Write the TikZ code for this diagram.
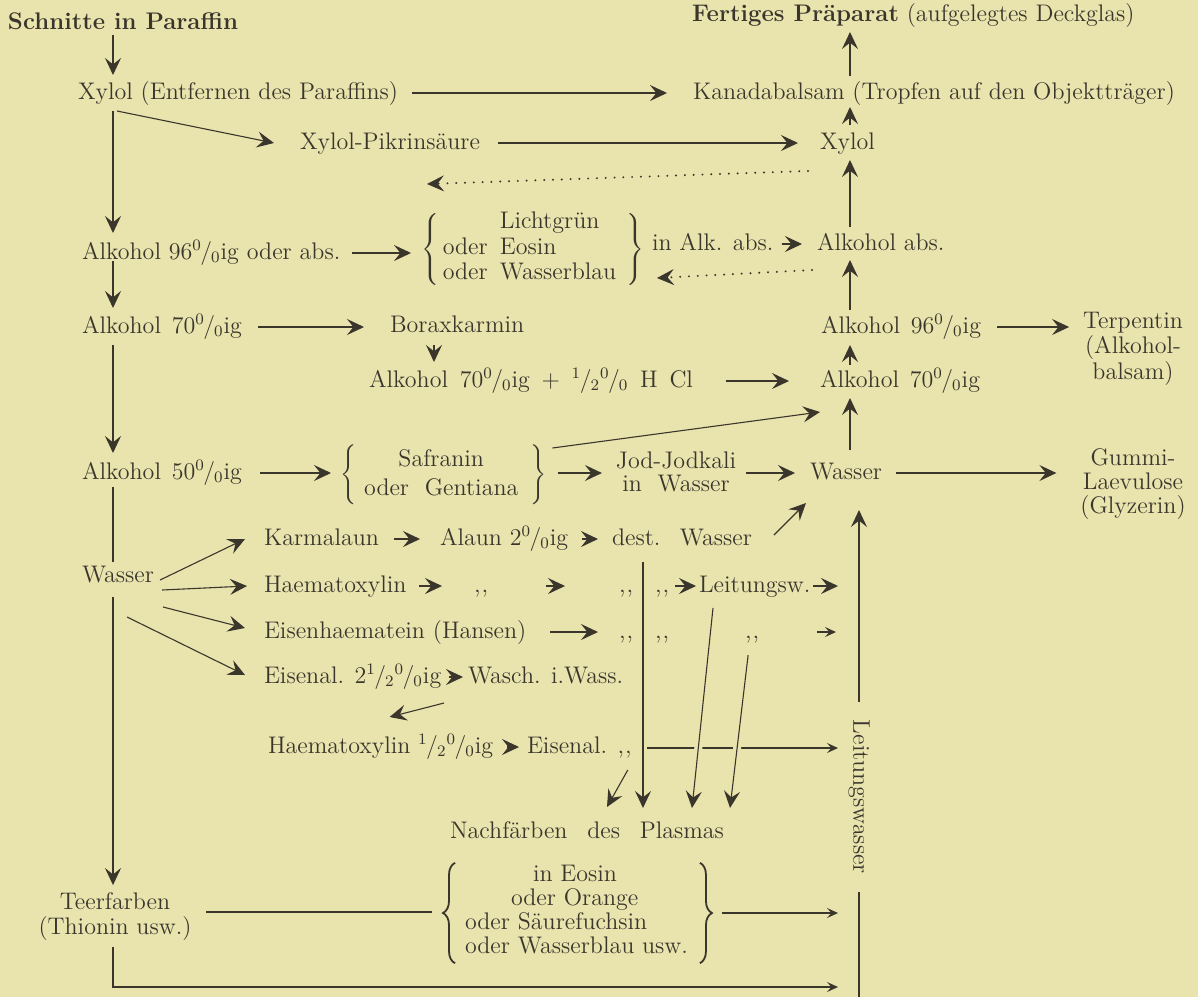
\documentclass[tikz,border=0pt]{standalone}
\usepackage{fontspec}
\usetikzlibrary{arrows.meta,calc,decorations.pathreplacing}
\definecolor{bgc}{RGB}{233,227,174}
\definecolor{tc}{RGB}{58,54,44}
\newcommand{\prz}{\textsuperscript{0}\kern-0.06em/\kern-0.04em\textsubscript{0}}
\newcommand{\hlf}{\textsuperscript{1}\kern-0.06em/\kern-0.04em\textsubscript{2}}
\newcommand{\dit}{{,}\kern0.6pt{,}}
\tikzset{
 txt/.style={inner sep=0pt, outer sep=0pt, text height=9pt, text depth=3pt, anchor=west, font=\fontsize{12}{14}\selectfont, text=tc},
 mlt/.style={inner sep=0pt, outer sep=0pt, align=center, text=tc},
 brc/.style={inner sep=0pt, outer sep=0pt, anchor=west, text=tc, font=\fontsize{12}{14}\selectfont},
 ln/.style={draw=tc, line width=0.55pt},
 curly/.style={draw=tc, line width=0.9pt, decorate, decoration={brace, amplitude=6pt}},
 arr/.style={ln, -{Stealth[length=8.5pt,width=8pt,inset=3.2pt]}},
 sarr/.style={ln, -{Stealth[length=5.5pt,width=5pt,inset=2.2pt]}},
 dotarr/.style={draw=tc, line width=1.1pt, line cap=round, dash pattern=on 0pt off 4.4pt, -{Stealth[length=8.5pt,width=8pt,inset=3.2pt,line width=0.4pt]}},
 gap/.style={preaction={draw=bgc, line width=4pt, arrows=-}},
}
\begin{document}
\begin{tikzpicture}[x=0.5pt,y=-0.5pt]
\fill[bgc] (0,0) rectangle (1198,997);
\useasboundingbox (0,0) rectangle (1198,997);
\coordinate (sp) at (113,0);
\coordinate (xr) at (850,0);
\coordinate (xrr) at (859,0);
\coordinate (xcol) at (643,0);

% ---------- nodes ----------
\node[txt, font=\fontsize{12}{14}\selectfont\bfseries] (schnitte) at (8,23) {Schnitte in Paraffin};
\node[txt] (fertig) at (692,15) {\textbf{Fertiges Präparat} (aufgelegtes Deckglas)};
\node[txt] (xylolE) at (78,93) {Xylol (Entfernen des Paraffins)};
\node[txt] (kanada) at (693,93) {Kanadabalsam (Tropfen auf den Objektträger)};
\node[txt] (pikrin) at (300,143) {Xylol-Pikrinsäure};
\node[txt] (xylolR) at (820,143) {Xylol};
\node[txt] (alk96abs) at (82,253) {Alkohol 96\prz ig oder abs.};
\node[brc] (brace1) at (421,249) {\def\arraystretch{0.91}$\left\{\begin{tabular}{@{\hspace{2pt}}l@{\hspace{6pt}}l@{\hspace{5pt}}} & Lichtgrün\\ oder & Eosin\\ oder & Wasserblau\end{tabular}\right\}$};
\node[txt] (inalk) at (652,244) {in Alk. abs.};
\node[txt] (alkabs) at (817,244) {Alkohol abs.};
\node[txt] (alk70) at (82,327) {\makebox[80pt][s]{Alkohol 70\prz ig}};
\node[txt] (borax) at (390,326) {Boraxkarmin};
\node[txt] (alk96R) at (821,327) {\makebox[80pt][s]{Alkohol 96\prz ig}};
\node[mlt, font=\fontsize{12}{11.3}\selectfont] (terp) at (1133,349) {Terpentin\\(Alkohol-\\balsam)};
\node[txt] (alk70hcl) at (369,381) {\makebox[162pt][s]{Alkohol 70\prz ig $+$ \hlf\prz{} H Cl}};
\node[txt] (alk70R) at (820,381) {\makebox[80pt][s]{Alkohol 70\prz ig}};
\node[txt] (alk50) at (82,473) {\makebox[80pt][s]{Alkohol 50\prz ig}};
\node[brc] (brace2) at (340,475) {\def\arraystretch{1.03}$\left\{\begin{tabular}{@{\hspace{4pt}}c@{\hspace{6pt}}}Safranin\\oder\ \ Gentiana\end{tabular}\right\}$};
\node[mlt, font=\fontsize{12}{11.5}\selectfont] (jod) at (676,472) {Jod-Jodkali\\in\ \ Wasser};
\node[txt] (wasserR) at (810,473) {Wasser};
\node[mlt, font=\fontsize{12}{11.8}\selectfont] (gummi) at (1133,484) {Gummi-\\Laevulose\\(Glyzerin)};
\node[txt] (wasserL) at (82,576) {Wasser};
\node[txt] (karm) at (264,539) {Karmalaun};
\node[txt] (alaun) at (440,539) {Alaun 2\prz ig};
\node[txt] (dest) at (612,539) {\makebox[70pt][s]{dest. Wasser}};
\node[txt] (haem) at (264,586) {Haematoxylin};
\node[txt] (d1) at (474,586) {\dit};
\node[txt] (d2) at (619,586) {\dit};
\node[txt] (d3) at (655,586) {\dit};
\node[txt] (leit) at (699,586) {Leitungsw.};
\node[txt] (eisenh) at (264,632) {Eisenhaematein (Hansen)};
\node[txt] (d4) at (619,632) {\dit};
\node[txt] (d5) at (655,632) {\dit};
\node[txt] (d6) at (745,632) {\dit};
\node[txt] (eisenal) at (264,677) {Eisenal. 2\hlf\prz ig};
\node[txt] (wasch) at (468,677) {Wasch. i.Wass.};
\node[txt] (haemh) at (268,747) {Haematoxylin \hlf\prz ig};
\node[txt] (eisenal2) at (527,747) {Eisenal. \dit};
\node[txt] (nach) at (450,832) {\makebox[137pt][s]{Nachfärben des Plasmas}};
\node[brc] (tints) at (465,913) {\def\arraystretch{0.86}\begin{tabular}{@{}l@{}}\hspace{34pt}in Eosin\\\hspace{23pt}oder Orange\\oder Säurefuchsin\\oder Wasserblau usw.\end{tabular}};
\node[mlt, font=\fontsize{12}{12.5}\selectfont] (teer) at (115,917) {Teerfarben\\(Thionin usw.)};
\node[inner sep=0pt, rotate=-90, text=tc, font=\fontsize{12}{14}\selectfont] (leitv) at (859,797) {Leitungswasser};

% ---------- braces of the last group ----------
\draw[curly] ($(tints.south west)+(-10,2)$) -- ($(tints.north west)+(-10,-2)$);
\draw[curly] ($(tints.north east)+(12,-2)$) -- ($(tints.south east)+(12,2)$);

% ---------- connectors ----------
\draw[arr] (schnitte.south -| sp) -- ($(xylolE.north -| sp)+(0,-6)$);
\draw[arr] ($(xylolE.east)+(14,0)$) -- ($(kanada.west)+(-26,0)$);
\draw[arr] ($(xylolE.south -| sp)+(4,6)$) -- ($(pikrin.west)+(-26,0)$);
\draw[arr] ($(xylolE.south -| sp)+(0,6)$) -- ($(alk96abs.north -| sp)+(0,-8)$);
\draw[arr] ($(pikrin.east)+(18,0)$) -- ($(xylolR.west)+(-22,0)$);
\draw[arr] ($(kanada.north -| xr)+(0,-5)$) -- ($(fertig.south -| xr)+(0,5)$);
\draw[arr] ($(xylolR.north -| xr)+(0,-6)$) -- ($(kanada.south -| xr)+(0,2)$);
\draw[arr] ($(alkabs.north -| xr)+(0,-5)$) -- ($(xylolR.south -| xr)+(0,5)$);
\coordinate (dt1) at (808,171);
\coordinate (dt2) at (427,184);
\draw[dotarr] (dt1) -- (dt2);
\coordinate (db1) at (812,270);
\coordinate (db2) at (657,278);
\draw[dotarr] (db1) -- (db2);
\draw[arr] ($(alk96abs.east)+(12,0)$) -- ($(brace1.west |- alk96abs.east)+(-10,0)$);
\draw[arr] ($(inalk.east)+(8,0)$) -- ($(alkabs.west)+(-15,0)$);
\draw[arr] ($(alk96R.north -| xr)+(0,-5)$) -- ($(alkabs.south -| xr)+(0,4)$);
\draw[arr] ($(alk96R.east)+(16,0)$) -- ($(terp.west |- alk96R.east)+(-14,0)$);
\draw[arr] ($(alk70R.north -| xr)+(0,-4)$) -- ($(alk96R.south -| xr)+(0,6)$);
\draw[arr] ($(alk96abs.south -| sp)+(0,-4)$) -- ($(alk70.north -| sp)+(0,-7)$);
\draw[arr] ($(alk70.east)+(16,0)$) -- ($(borax.west |- alk70.east)+(-26,0)$);
\draw[arr] ($(borax.south west)+(44,7)$) -- ($(borax.west |- alk70hcl.north)+(44,-7)$);
\draw[arr] ($(alk70hcl.east)+(33,0)$) -- ($(alk70R.west)+(-31,0)$);
\draw[arr] ($(alk70.south -| sp)+(0,6)$) -- ($(alk50.north -| sp)+(0,-8)$);
\draw[arr] ($(alk50.east)+(18,0)$) -- ($(brace2.west |- alk50.east)+(-9,0)$);
\draw[arr] ($(brace2.east)+(6,-27)$) -- ($(alk70R.south west)+(0,19)$);
\draw[arr] ($(brace2.east |- alk50.east)+(12,0)$) -- ($(jod.west |- alk50.east)+(-14,0)$);
\draw[arr] ($(jod.east |- wasserR.west)+(10,0)$) -- ($(wasserR.west)+(-15,0)$);
\draw[arr] ($(wasserR.north -| xr)+(0,-11)$) -- ($(alk70R.south -| xr)+(0,5)$);
\draw[arr] ($(wasserR.east)+(14,0)$) -- ($(gummi.west |- wasserR.east)+(-24,0)$);
\draw[ln] ($(alk50.south -| sp)+(0,2)$) -- ($(wasserL.north -| sp)+(0,-2)$);
\draw[arr] ($(wasserL.south -| sp)+(0,9)$) -- ($(teer.north -| sp)+(0,-8)$);
\draw[arr] ($(wasserL.east)+(6,4)$) -- ($(karm.west)+(-19,0)$);
\draw[arr] ($(wasserL.east)+(8,14)$) -- ($(haem.west)+(-17,0)$);
\draw[arr] ($(wasserL.east)+(9,31)$) -- ($(eisenh.west)+(-19,-4)$);
\draw[arr] ($(wasserL.south east)+(-27,29)$) -- ($(eisenal.west)+(-19,-2)$);
\draw[arr] ($(karm.east)+(15,0)$) -- ($(alaun.west)+(-20,0)$);
\draw[arr] ($(alaun.east)+(14,0)$) -- ($(dest.west)+(-14,0)$);
\draw[arr] ($(dest.east)+(22,-4)$) -- ($(wasserR.south west)+(-4,18)$);
\draw[arr] ($(haem.east)+(13,0)$) -- ($(d1.west)+(-32,0)$);
\draw[arr] ($(d1.east)+(58,0)$) -- ($(d2.west)+(-54,0)$);
\draw[arr] ($(d3.east)+(6,0)$) -- ($(leit.west)+(-3,0)$);
\draw[arr] ($(leit.east)+(3,0)$) -- ($(leit.east -| xrr)+(-21,0)$);
\draw[arr] ($(eisenh.east)+(24,0)$) -- ($(d4.west)+(-21,0)$);
\draw[sarr] ($(d6.east)+(58,0)$) -- ($(d6.east -| xrr)+(-23,0)$);
\draw[arr] ($(eisenal.east)+(8,0)$) -- ($(wasch.west)+(-5,0)$);
\draw[arr] ($(wasch.south west)+(-24,14)$) -- ($(haemh.north)+(9,-18)$);
\draw[arr] ($(haemh.east)+(14,0)$) -- ($(eisenal2.west)+(-8,0)$);
\draw[arr] ($(dest.south -| xcol)+(0,11)$) -- ($(nach.north -| xcol)+(0,-12)$);
\draw[sarr] ($(eisenal2.east -| xcol)+(4,1)$) -- ($(eisenal2.east -| xrr)+(-21,1)$);
\draw[arr, gap] ($(leit.south west)+(14,10)$) -- ($(nach.north west)+(242,-12)$);
\draw[arr, gap] ($(d6.south)+(-4,11)$) -- ($(nach.north west)+(280,-12)$);
\draw[arr] ($(eisenal2.south east)+(-4,11)$) -- ($(nach.north west)+(157,-13)$);
\draw[ln] ($(teer.east)+(15,-5)$) -- ($(tints.west |- teer.east)+(-33,-5)$);
\draw[sarr] ($(tints.east)+(34,0)$) -- ($(tints.east -| xrr)+(-21,0)$);
\coordinate (bot) at (838,987);
\draw[sarr] ($(teer.south)+(-2,6)$) |- (bot);
\coordinate (bedge) at (859,997);
\draw[ln] ($(leitv.east)+(0,18)$) -- (bedge);
\draw[arr] ($(leitv.west)+(0,-18)$) -- ($(wasserR.south -| leitv.west)+(0,25)$);
\end{tikzpicture}
\end{document}
